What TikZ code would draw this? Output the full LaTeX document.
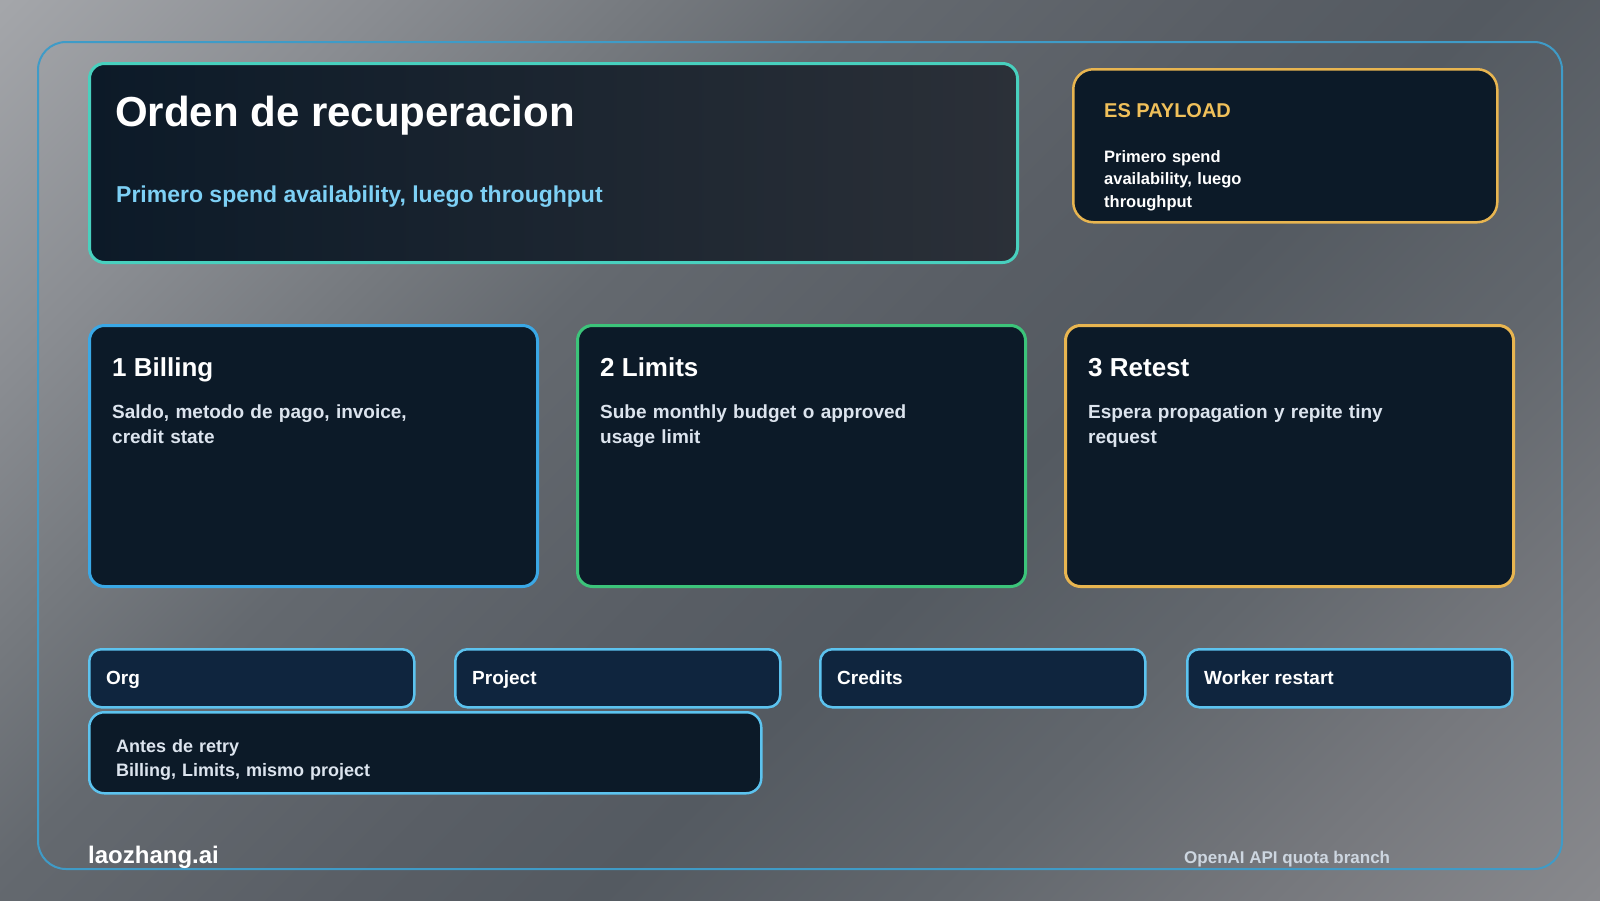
\documentclass[tikz,border=0pt]{standalone}
\usepackage{fontspec}
\setmainfont{Liberation Sans}
\definecolor{bgA}{RGB}{164,166,170}
\definecolor{bgB}{RGB}{138,141,146}
\definecolor{bgC}{RGB}{117,121,126}
\definecolor{bgD}{RGB}{100,105,111}
\definecolor{bgE}{RGB}{89,94,101}
\definecolor{bgF}{RGB}{84,90,97}
\definecolor{bgG}{RGB}{98,103,109}
\definecolor{bgH}{RGB}{118,120,125}
\definecolor{bgI}{RGB}{136,137,141}
\definecolor{frameblue}{RGB}{63,155,199}
\definecolor{cardnavy}{RGB}{12,26,40}
\definecolor{titleright}{RGB}{43,48,56}
\definecolor{pillnavy}{RGB}{15,37,62}
\definecolor{tealedge}{RGB}{72,208,190}
\definecolor{skyedge}{RGB}{58,168,230}
\definecolor{greenedge}{RGB}{60,196,122}
\definecolor{goldedge}{RGB}{232,181,80}
\definecolor{goldtext}{RGB}{240,192,90}
\definecolor{pilledge}{RGB}{92,195,239}
\definecolor{subblue}{RGB}{125,208,245}
\definecolor{bodygray}{RGB}{220,228,238}
\definecolor{footgray}{RGB}{205,214,224}
\usepackage{tikz}
\usetikzlibrary{positioning}
\newcommand{\fsz}[2]{\fontsize{#1}{#2}\selectfont}

\pgfdeclareverticalshading{backdrop}{100bp}{color(0bp)=(bgI); color(14.6bp)=(bgI); color(23.9bp)=(bgH); color(33.1bp)=(bgG); color(43bp)=(bgF); color(50bp)=(bgE); color(60.7bp)=(bgD); color(67bp)=(bgC); color(74.8bp)=(bgB); color(85.4bp)=(bgA); color(100bp)=(bgA)}

\tikzset{
  panel/.style={rounded corners=15pt, line width=3pt, fill=cardnavy, anchor=north west, inner sep=0pt},
  pill/.style={rounded corners=12pt, line width=2.5pt, draw=pilledge, fill=pillnavy, anchor=north west, inner sep=0pt, minimum width=325pt, minimum height=58pt},
  txt/.style={anchor=base west, inner sep=0pt, align=left},
  cardhead/.style={txt, text=white, font=\bfseries\fsz{26}{30}},
  cardbody/.style={txt, text=bodygray, text width=360pt, font=\bfseries\fsz{19}{25}},
  pilltext/.style={txt, text=white, font=\bfseries\fsz{19}{23}}
}

\begin{document}
\begin{tikzpicture}[x=1pt, y=-1pt]
  % Background and frame
  \useasboundingbox (0,0) rectangle (1600,900);
  \shade[shading=backdrop, shading angle=45] (0,0) rectangle (1600,900);
  \draw[frameblue, line width=2pt, rounded corners=28pt] (38,42) rectangle (1562,869);

  % Title box
  \node[panel, draw=tealedge, left color=cardnavy, right color=titleright, minimum width=928pt, minimum height=199pt] (titlebox) at (88,62) {};
  \node[txt, text=white, font=\bfseries\fsz{42}{48}] (title) at (115,126) {Orden de recuperacion};
  \node[txt, text=subblue, font=\bfseries\fsz{23}{28}] (subtitle) at (116,202) {Primero spend availability, luego throughput};

  % ES payload box
  \node[panel, draw=goldedge, line width=2.5pt, rounded corners=20pt, minimum width=424pt, minimum height=153pt] (payload) at (1072,68) {};
  \node[txt, text=goldtext, font=\bfseries\fsz{20}{24}] (payloadhead) at (1104,117) {ES PAYLOAD};
  \node[txt, text=white, text width=300pt, font=\bfseries\fsz{16.5}{22.5}] (payloadtext) at (1104,162) {Primero spend\\availability, luego\\throughput};

  % Three steps
  \node[panel, draw=skyedge, minimum width=448pt, minimum height=261pt] (billing) at (88,324) {};
  \node[cardhead] (billinghead) at (112,376) {1 Billing};
  \node[cardbody] (billingtext) at (112,418) {Saldo, metodo de pago, invoice,\\credit state};

  \node[panel, draw=greenedge, minimum width=448pt, minimum height=261pt] (limits) at (576,324) {};
  \node[cardhead] (limitshead) at (600,376) {2 Limits};
  \node[cardbody] (limitstext) at (600,418) {Sube monthly budget o approved\\usage limit};

  \node[panel, draw=goldedge, minimum width=448pt, minimum height=261pt] (retest) at (1064,324) {};
  \node[cardhead] (retesthead) at (1088,376) {3 Retest};
  \node[cardbody] (retesttext) at (1088,418) {Espera propagation y repite tiny\\request};

  % Scope pills
  \node[pill] (org) at (88,648) {};
  \node[pilltext] (orgtext) at (106,684) {Org};
  \node[pill] (project) at (454,648) {};
  \node[pilltext] (projecttext) at (472,684) {Project};
  \node[pill] (credits) at (819,648) {};
  \node[pilltext] (creditstext) at (837,684) {Credits};
  \node[pill] (worker) at (1186,648) {};
  \node[pilltext] (workertext) at (1204,684) {Worker restart};

  % Check before retry
  \node[panel, draw=pilledge, line width=2.5pt, minimum width=672pt, minimum height=81pt] (beforeretry) at (88,711) {};
  \node[txt, text=bodygray, text width=600pt, font=\bfseries\fsz{18}{24}] (beforetext) at (116,752) {Antes de retry\\Billing, Limits, mismo project};

  % Footer
  \node[txt, text=white, font=\bfseries\fsz{24}{28}] (brand) at (88,863) {laozhang.ai};
  \node[txt, text=footgray, font=\bfseries\fsz{17}{20}] (branch) at (1184,863) {OpenAI API quota branch};
\end{tikzpicture}
\end{document}
